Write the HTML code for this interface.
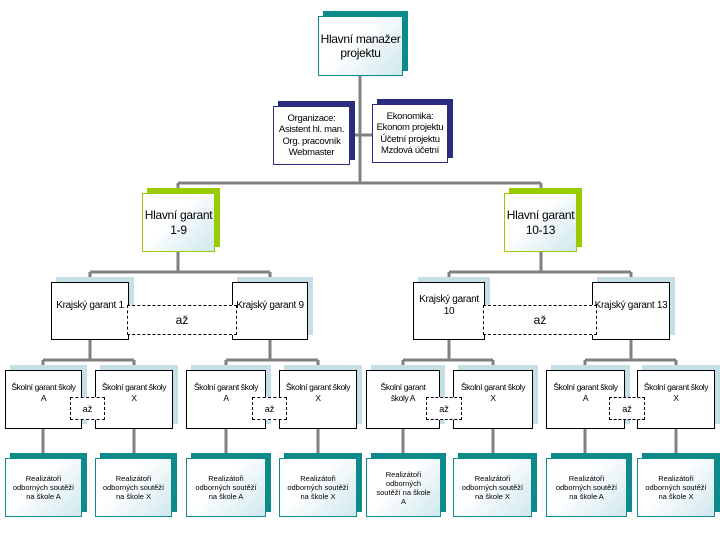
<!DOCTYPE html>
<html><head><meta charset="utf-8"><style>
body{margin:0;width:720px;height:540px;background:#fff;position:relative;overflow:hidden;font-family:"Liberation Sans",sans-serif;}
.b{position:absolute;box-sizing:border-box;border:1px solid #000;background:#fff;display:flex;align-items:center;justify-content:center;text-align:center;color:#000;line-height:1.2;white-space:nowrap;letter-spacing:-0.3px;}
.s{position:absolute;}
.d{position:absolute;box-sizing:border-box;border:1px dashed #000;background:#fff;display:flex;align-items:center;justify-content:center;font-size:10px;}
.g{background:linear-gradient(135deg,#fff 40%,#cfe8ee);}
.l3{font-size:8.5px;padding-bottom:14px;letter-spacing:-0.4px;}
.l4{font-size:7.5px;letter-spacing:0;}
</style></head><body>
<svg width="720" height="540" style="position:absolute;left:0;top:0" fill="none" stroke="#808080" stroke-width="3">
<path d="M360 75V183M350 135H372M178 183H541M178 183V193M541 183V193"/>
<path d="M178 252V272M90 272H270M90 272V282M270 272V282M541 252V272M449 272H631M449 272V282M631 272V282"/>
<path d="M90 340V360M43 360H134M43 360V370M134 360V370M270 340V360M226 360H318M226 360V370M318 360V370"/>
<path d="M449 340V360M403 360H493M403 360V370M493 360V370M631 340V360M585 360H676M585 360V370M676 360V370"/>
<path d="M43 429V458M134 429V458M226 429V458M318 429V458M403 429V458M493 429V458M585 429V458M676 429V458"/>
</svg>

<div class="s" style="left:323px;top:11px;width:85px;height:60px;background:#0d8a8a"></div>
<div class="b g" style="left:318px;top:16px;width:85px;height:60px;font-size:12px;border-color:#0d8a8a">Hlavní manažer<br>projektu</div>

<div class="s" style="left:278px;top:101px;width:77px;height:59px;background:#2b2b80"></div>
<div class="b" style="left:273px;top:106px;width:77px;height:59px;font-size:9.5px;border-color:#2b2b80">Organizace:<br>Asistent hl. man.<br>Org. pracovník<br>Webmaster</div>
<div class="s" style="left:377px;top:99px;width:76px;height:59px;background:#2b2b80"></div>
<div class="b" style="left:372px;top:104px;width:76px;height:59px;font-size:9.5px;border-color:#2b2b80">Ekonomika:<br>Ekonom projektu<br>Účetní projektu<br>Mzdová účetní</div>

<div class="s" style="left:147px;top:188px;width:73px;height:59px;background:#99cc00"></div>
<div class="b g" style="left:142px;top:193px;width:73px;height:59px;font-size:12px;border-color:#99cc00">Hlavní garant<br>1-9</div>
<div class="s" style="left:509px;top:188px;width:73px;height:59px;background:#99cc00"></div>
<div class="b g" style="left:504px;top:193px;width:73px;height:59px;font-size:12px;border-color:#99cc00">Hlavní garant<br>10-13</div>

<div class="s" style="left:56px;top:277px;width:78px;height:58px;background:#c6dfe6"></div>
<div class="s" style="left:237px;top:277px;width:76px;height:58px;background:#c6dfe6"></div>
<div class="s" style="left:418px;top:277px;width:72px;height:58px;background:#c6dfe6"></div>
<div class="s" style="left:597px;top:277px;width:78px;height:58px;background:#c6dfe6"></div>
<div class="b" style="left:51px;top:282px;width:78px;height:58px;font-size:10px;padding-bottom:10px">Krajský garant 1</div>
<div class="b" style="left:232px;top:282px;width:76px;height:58px;font-size:10px;padding-bottom:10px">Krajský garant 9</div>
<div class="b" style="left:413px;top:282px;width:72px;height:58px;font-size:10px;padding-bottom:10px">Krajský garant<br>10</div>
<div class="b" style="left:592px;top:282px;width:78px;height:58px;font-size:10px;padding-bottom:10px">Krajský garant 13</div>
<div class="d" style="left:127px;top:305px;width:110px;height:30px;font-size:12px">až</div>
<div class="d" style="left:483px;top:305px;width:114px;height:30px;font-size:12px">až</div>

<div class="s" style="left:10px;top:365px;width:77px;height:59px;background:#c6dfe6"></div>
<div class="s" style="left:100px;top:365px;width:78px;height:59px;background:#c6dfe6"></div>
<div class="s" style="left:191px;top:365px;width:80px;height:59px;background:#c6dfe6"></div>
<div class="s" style="left:284px;top:365px;width:78px;height:59px;background:#c6dfe6"></div>
<div class="s" style="left:371px;top:365px;width:74px;height:59px;background:#c6dfe6"></div>
<div class="s" style="left:458px;top:365px;width:80px;height:59px;background:#c6dfe6"></div>
<div class="s" style="left:551px;top:365px;width:79px;height:59px;background:#c6dfe6"></div>
<div class="s" style="left:642px;top:365px;width:78px;height:59px;background:#c6dfe6"></div>
<div class="b l3" style="left:5px;top:370px;width:77px;height:59px">Školní garant školy<br>A</div>
<div class="b l3" style="left:95px;top:370px;width:78px;height:59px">Školní garant školy<br>X</div>
<div class="b l3" style="left:186px;top:370px;width:80px;height:59px">Školní garant školy<br>A</div>
<div class="b l3" style="left:279px;top:370px;width:78px;height:59px">Školní garant školy<br>X</div>
<div class="b l3" style="left:366px;top:370px;width:74px;height:59px">Školní garant<br>školy A</div>
<div class="b l3" style="left:453px;top:370px;width:80px;height:59px">Školní garant školy<br>X</div>
<div class="b l3" style="left:546px;top:370px;width:79px;height:59px">Školní garant školy<br>A</div>
<div class="b l3" style="left:637px;top:370px;width:78px;height:59px">Školní garant školy<br>X</div>
<div class="d" style="left:70px;top:397px;width:35px;height:23px;font-size:9px">až</div>
<div class="d" style="left:252px;top:397px;width:35px;height:23px;font-size:9px">až</div>
<div class="d" style="left:426px;top:397px;width:36px;height:23px;font-size:9px">až</div>
<div class="d" style="left:609px;top:397px;width:36px;height:23px;font-size:9px">až</div>

<div class="s" style="left:10px;top:453px;width:77px;height:59px;background:#0d8a8a"></div>
<div class="s" style="left:100px;top:453px;width:77px;height:59px;background:#0d8a8a"></div>
<div class="s" style="left:191px;top:453px;width:80px;height:59px;background:#0d8a8a"></div>
<div class="s" style="left:284px;top:453px;width:78px;height:59px;background:#0d8a8a"></div>
<div class="s" style="left:371px;top:453px;width:75px;height:59px;background:#0d8a8a"></div>
<div class="s" style="left:458px;top:453px;width:79px;height:59px;background:#0d8a8a"></div>
<div class="s" style="left:551px;top:453px;width:81px;height:59px;background:#0d8a8a"></div>
<div class="s" style="left:642px;top:453px;width:78px;height:59px;background:#0d8a8a"></div>
<div class="b g l4" style="left:5px;top:458px;width:77px;height:59px;border-color:#0d8a8a">Realizátoři<br>odborných soutěží<br>na škole A</div>
<div class="b g l4" style="left:95px;top:458px;width:77px;height:59px;border-color:#0d8a8a">Realizátoři<br>odborných soutěží<br>na škole X</div>
<div class="b g l4" style="left:186px;top:458px;width:80px;height:59px;border-color:#0d8a8a">Realizátoři<br>odborných soutěží<br>na škole A</div>
<div class="b g l4" style="left:279px;top:458px;width:78px;height:59px;border-color:#0d8a8a">Realizátoři<br>odborných soutěží<br>na škole X</div>
<div class="b g l4" style="left:366px;top:458px;width:75px;height:59px;border-color:#0d8a8a">Realizátoři<br>odborných<br>soutěží na škole<br>A</div>
<div class="b g l4" style="left:453px;top:458px;width:79px;height:59px;border-color:#0d8a8a">Realizátoři<br>odborných soutěží<br>na škole X</div>
<div class="b g l4" style="left:546px;top:458px;width:81px;height:59px;border-color:#0d8a8a">Realizátoři<br>odborných soutěží<br>na škole A</div>
<div class="b g l4" style="left:637px;top:458px;width:78px;height:59px;border-color:#0d8a8a">Realizátoři<br>odborných soutěží<br>na škole X</div>
</body></html>
